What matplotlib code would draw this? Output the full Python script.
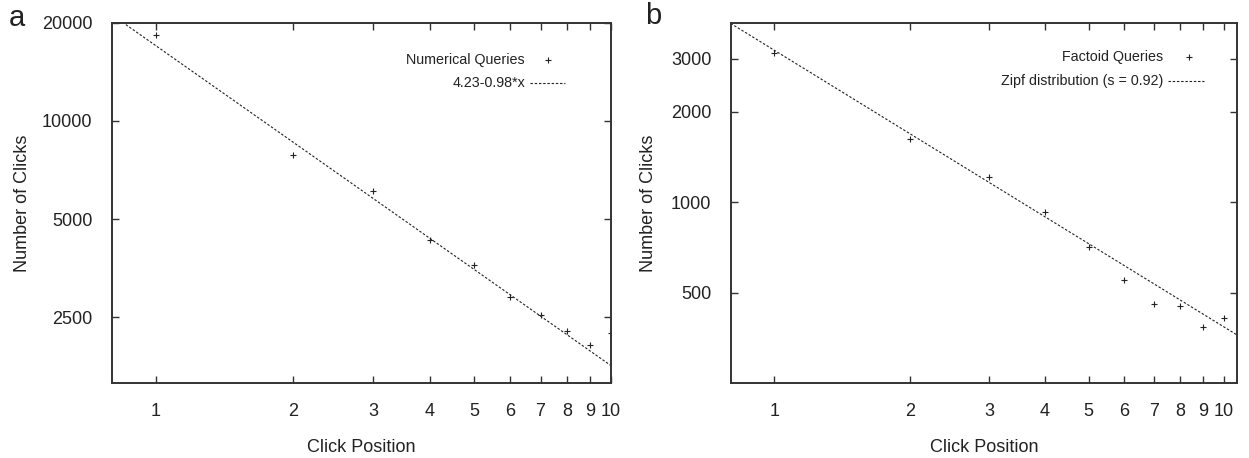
import numpy as np
import matplotlib

matplotlib.use("Agg")
import matplotlib.pyplot as plt
from matplotlib.ticker import FixedLocator, FixedFormatter, NullLocator

plt.rcParams["font.family"] = ["Liberation Sans", "DejaVu Sans"]

# click position (rank)
positions = [1, 2, 3, 4, 5, 6, 7, 8, 9, 10]

# panel a: numerical queries
numerical_clicks = [18300, 7850, 6100, 4310, 3615, 2890, 2535, 2270, 2050, 2240]
fit_intercept = 4.23  # log10 fit: 4.23 - 0.98*x
fit_slope = 0.98

# panel b: factoid queries
factoid_clicks = [3130, 1620, 1212, 926, 709, 550, 457, 453, 385, 411]
zipf_s = 0.92
zipf_scale = 3200

x_ticks = [1, 2, 3, 4, 5, 6, 7, 8, 9, 10]
a_y_ticks = [2500, 5000, 10000, 20000]
b_y_ticks = [500, 1000, 2000, 3000]

INK = "#222222"
FRAME = "#333333"


def style_axes(ax, xlim, ylim, yticks, ylabel_pad):
    ax.set_xscale("log")
    ax.set_yscale("log")
    ax.set_xlim(*xlim)
    ax.set_ylim(*ylim)
    ax.xaxis.set_major_locator(FixedLocator(x_ticks))
    ax.xaxis.set_major_formatter(FixedFormatter([str(t) for t in x_ticks]))
    ax.xaxis.set_minor_locator(NullLocator())
    ax.yaxis.set_major_locator(FixedLocator(yticks))
    ax.yaxis.set_major_formatter(FixedFormatter([str(t) for t in yticks]))
    ax.yaxis.set_minor_locator(NullLocator())
    ax.tick_params(direction="in", length=5, width=1.0, color=FRAME,
                   top=True, right=True, labelsize=13, labelcolor=INK)
    ax.tick_params(axis="x", pad=14)
    ax.tick_params(axis="y", pad=14)
    for spine in ax.spines.values():
        spine.set_linewidth(1.4)
        spine.set_color(FRAME)
    ax.set_xlabel("Click Position", fontsize=13, color=INK, labelpad=14)
    ax.set_ylabel("Number of Clicks", fontsize=13, color=INK,
                  labelpad=ylabel_pad)


def manual_legend(ax, labels, text_x, marker_x, rows_y, dash_span):
    # gnuplot style key: right-justified text followed by the sample
    ax.text(text_x, rows_y[0], labels[0], transform=ax.transAxes, ha="right",
            va="center", fontsize=10.3, color=INK)
    ax.plot([marker_x], [rows_y[0]], transform=ax.transAxes, marker="+",
            markersize=5, markeredgewidth=0.8, color=INK, linestyle="none")
    ax.text(text_x, rows_y[1], labels[1], transform=ax.transAxes, ha="right",
            va="center", fontsize=10.3, color=INK)
    ax.plot(dash_span, [rows_y[1], rows_y[1]], transform=ax.transAxes,
            color=INK, linewidth=0.8, dashes=(2.2, 1.6))


fig = plt.figure(figsize=(12.49, 4.58), dpi=100)
ax_a = fig.add_axes([0.0897, 0.1631, 0.3995, 0.7873])
ax_b = fig.add_axes([0.585, 0.1631, 0.4056, 0.7873])

# panel a
line_x = np.geomspace(0.8, 10, 200)
line_a = 10 ** fit_intercept * line_x ** (-fit_slope)
ax_a.plot(line_x, line_a, color=INK, linewidth=0.8, dashes=(2.2, 1.6))
ax_a.plot(positions, numerical_clicks, linestyle="none", marker="+",
          markersize=5, markeredgewidth=0.8, color=INK)
style_axes(ax_a, (0.8, 10), (1570, 20000), a_y_ticks, 8)
manual_legend(ax_a, ["Numerical Queries", "4.23-0.98*x"],
              (525 - 112) / 499, (548 - 112) / 499,
              [(383.3 - 60) / 360.6, (383.3 - 83) / 360.6],
              [(530 - 112) / 499, (565 - 112) / 499])

# panel b
line_xb = np.geomspace(0.8, 10.7, 200)
line_b = zipf_scale * line_xb ** (-zipf_s)
ax_b.plot(line_xb, line_b, color=INK, linewidth=0.8, dashes=(2.2, 1.6))
ax_b.plot(positions, factoid_clicks, linestyle="none", marker="+",
          markersize=5, markeredgewidth=0.8, color=INK)
style_axes(ax_b, (0.8, 10.7), (250, 3950), b_y_ticks, 10)
manual_legend(ax_b, ["Factoid Queries", "Zipf distribution (s = 0.92)"],
              (1163 - 730.7) / 506.6, (1189 - 730.7) / 506.6,
              [(383.3 - 57) / 360.6, (383.3 - 81) / 360.6],
              [(1168 - 730.7) / 506.6, (1204 - 730.7) / 506.6])

fig.text(17 / 1249, 1 - 18 / 458, "a", fontsize=21, color=INK,
         ha="center", va="center")
fig.text(653 / 1249, 1 - 16 / 458, "b", fontsize=21, color=INK,
         ha="center", va="center")

fig.savefig("out.png", dpi=100)
plt.close(fig)
